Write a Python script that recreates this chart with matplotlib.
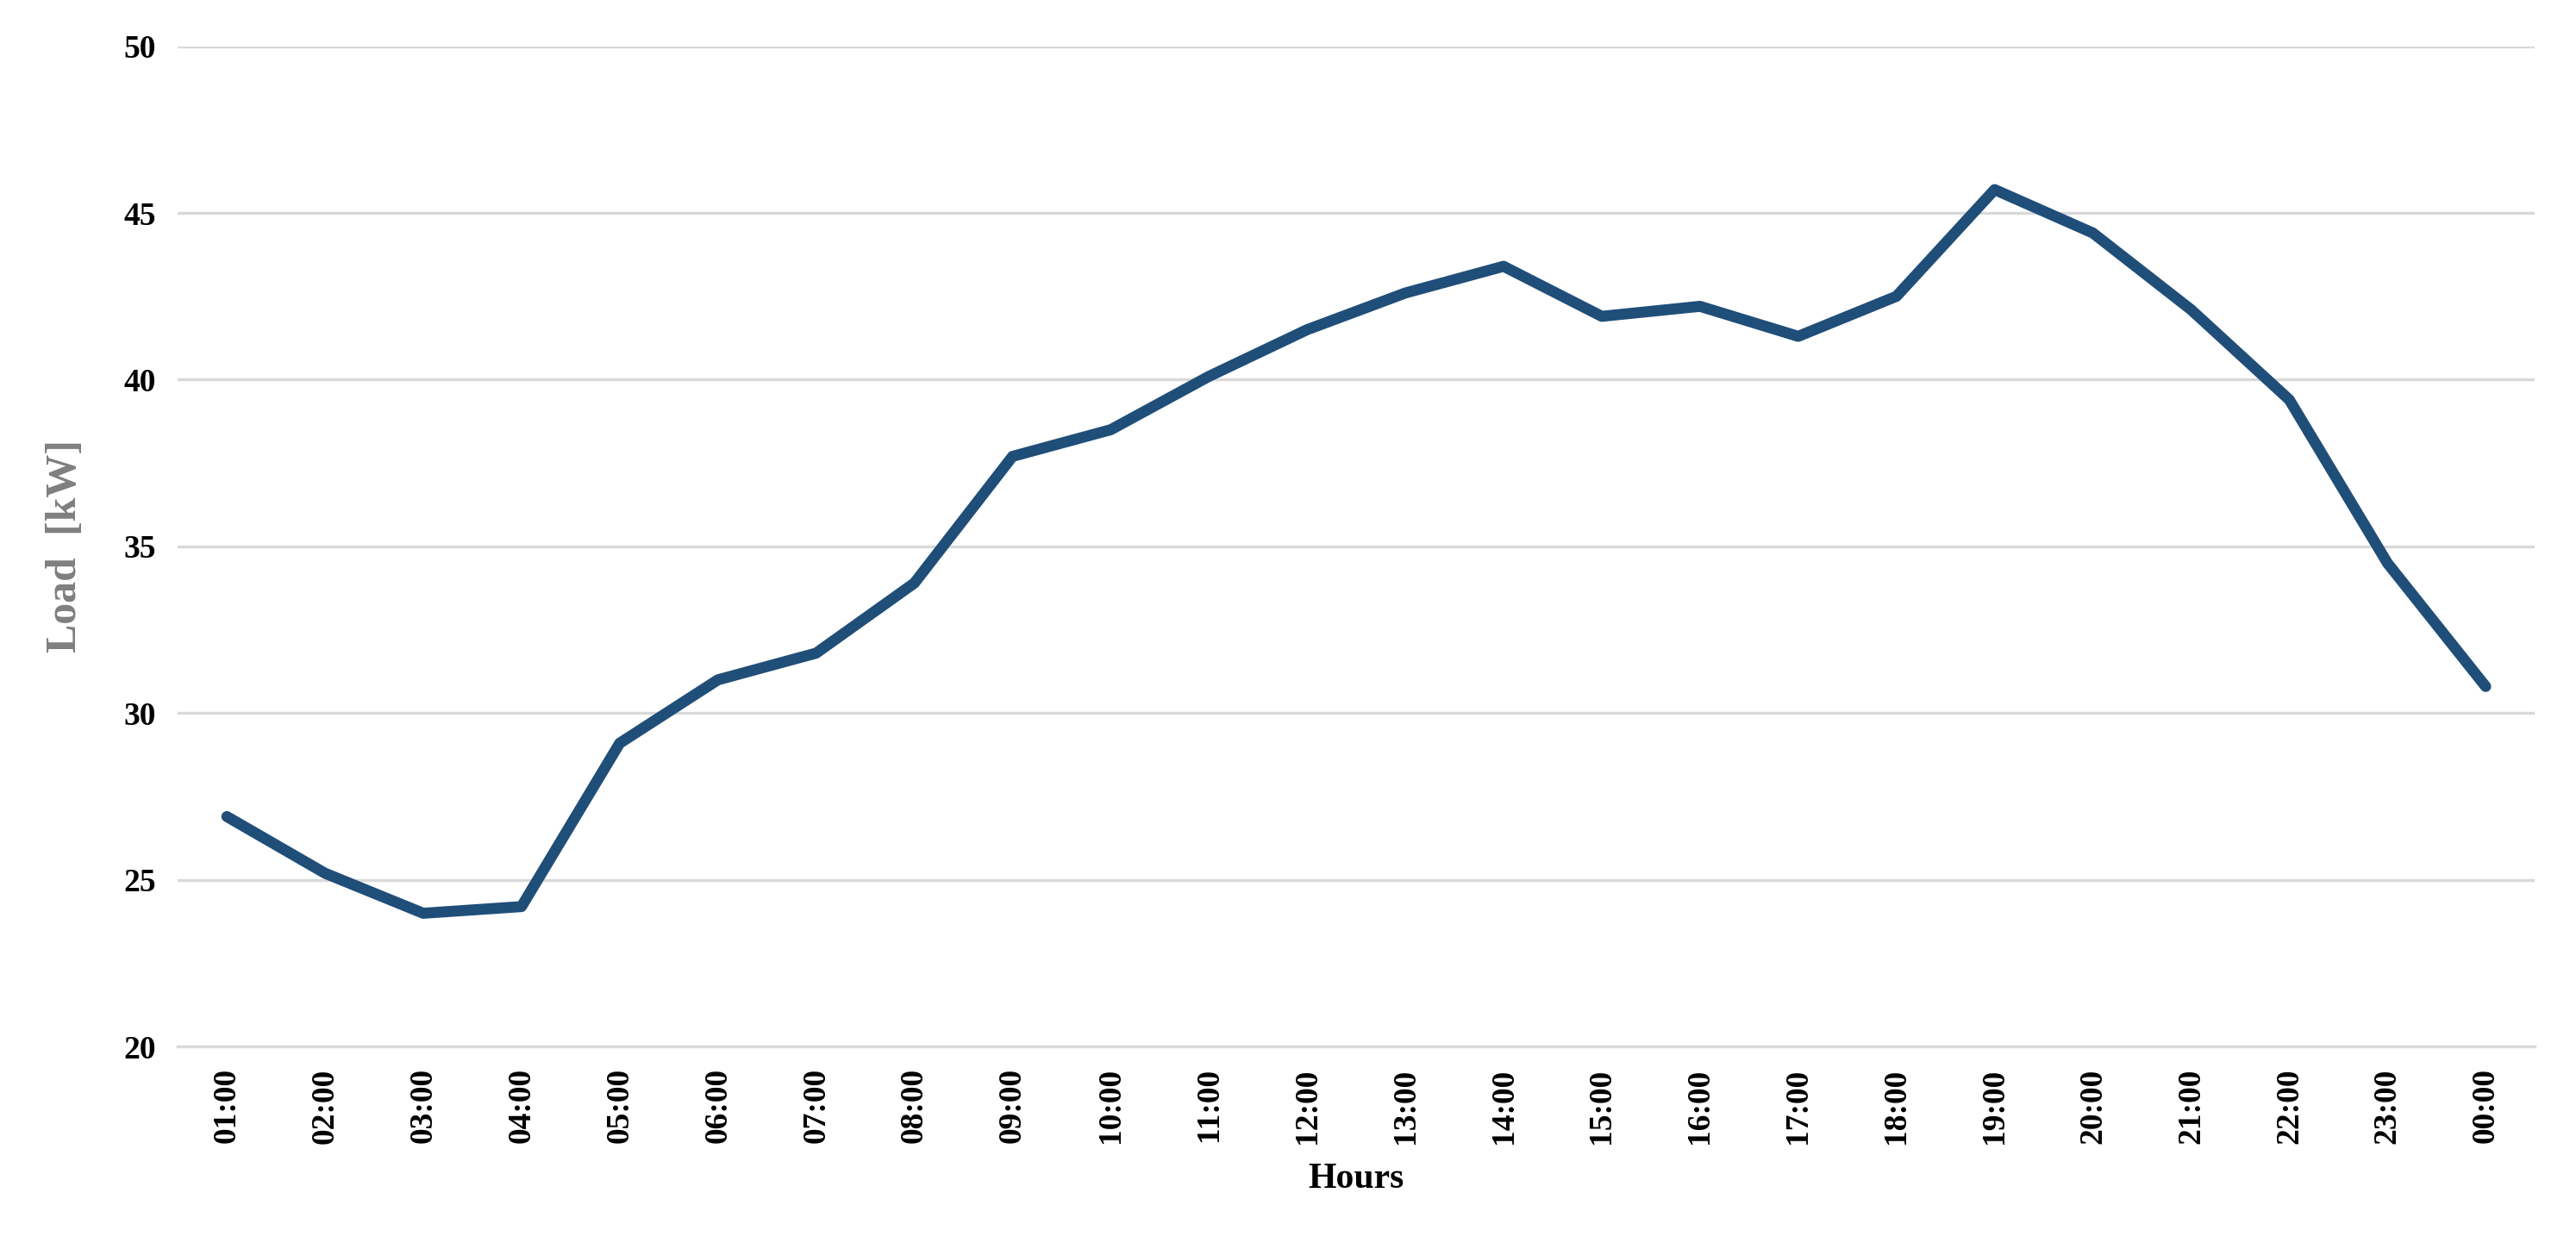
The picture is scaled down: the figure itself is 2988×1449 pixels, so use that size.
import matplotlib.pyplot as plt

hours = ['01:00', '02:00', '03:00', '04:00', '05:00', '06:00', '07:00', '08:00',
         '09:00', '10:00', '11:00', '12:00', '13:00', '14:00', '15:00', '16:00',
         '17:00', '18:00', '19:00', '20:00', '21:00', '22:00', '23:00', '00:00']
load_kw = [26.9, 25.2, 24.0, 24.2, 29.1, 31.0, 31.8, 33.9,
           37.7, 38.5, 40.1, 41.5, 42.6, 43.4, 41.9, 42.2,
           41.3, 42.5, 45.7, 44.4, 42.1, 39.4, 34.5, 30.8]

plt.rcParams['font.family'] = ['Liberation Serif', 'DejaVu Serif']
plt.rcParams['font.weight'] = 'bold'

fig = plt.figure(figsize=(14.94, 7.245), dpi=200)
ax = fig.add_axes([0.069, 0.162, 0.915, 0.801])

x = list(range(len(hours)))
ax.plot(x, load_kw, color='#1F4E79', linewidth=4.6, solid_capstyle='round', zorder=3)

ax.set_xlim(-0.5, len(hours) - 0.5)
ax.set_ylim(20, 50)
ax.set_yticks(range(20, 51, 5))
ax.set_xticks(x)
ax.set_xticklabels(hours, rotation=90)
ax.yaxis.grid(True, color='#D9D9D9', linewidth=1.2)
ax.set_axisbelow(True)

for s in ['top', 'right', 'left']:
    ax.spines[s].set_visible(False)
ax.spines['bottom'].set_color('#D9D9D9')
ax.spines['bottom'].set_linewidth(1.2)
ax.tick_params(axis='both', length=0, labelsize=13.5, pad=9)
for lab in ax.get_xticklabels() + ax.get_yticklabels():
    lab.set_fontweight('bold')

ax.set_xlabel('Hours', fontsize=15, fontweight='bold', labelpad=8)
ax.set_ylabel('Load  [kW]', fontsize=18, fontweight='bold', color='#7F7F7F', labelpad=16)

fig.savefig('out.png', dpi=200)
